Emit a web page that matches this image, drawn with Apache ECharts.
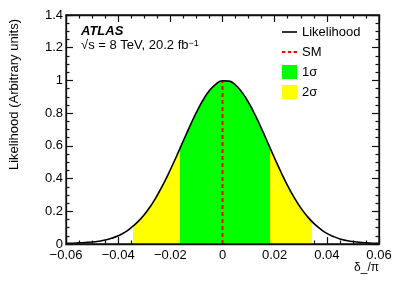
<!DOCTYPE html>
<html><head><meta charset="utf-8">
<script src="https://cdn.jsdelivr.net/npm/echarts@6/dist/echarts.min.js"></script>
<style>html,body{margin:0;padding:0;background:#fff}#c{width:399px;height:288px}</style>
</head><body><div id="c"></div>
<script>
const xValues = [-0.06,-0.0575,-0.055,-0.0525,-0.05,-0.0475,-0.045,-0.0425,-0.04,-0.0375,-0.035,-0.0325,-0.03,-0.0275,-0.025,-0.0225,-0.02,-0.0175,-0.015,-0.0125,-0.01,-0.0075,-0.005,-0.0025,0,0.0025,0.005,0.0075,0.01,0.0125,0.015,0.0175,0.02,0.0225,0.025,0.0275,0.03,0.0325,0.035,0.0375,0.04,0.0425,0.045,0.0475,0.05,0.0525,0.055,0.0575,0.06];
const likelihood = [0.004,0.005,0.007,0.009,0.012,0.017,0.024,0.035,0.05,0.071,0.1,0.135,0.179,0.233,0.298,0.372,0.454,0.541,0.632,0.721,0.805,0.879,0.938,0.978,0.998,0.996,0.972,0.927,0.865,0.789,0.704,0.614,0.524,0.437,0.356,0.284,0.221,0.169,0.126,0.092,0.065,0.046,0.031,0.021,0.015,0.01,0.007,0.005,0.004];
const band1sigma = [-0.0162, 0.0182];
const band2sigma = [-0.0342, 0.0345];
const smX = 0;
const smTop = 0.998;
const xTicks = [-0.06,-0.04,-0.02,0,0.02,0.04,0.06];
const yTicks = [0,0.2,0.4,0.6,0.8,1,1.2,1.4];

const curve = xValues.map((x,i)=>[x, likelihood[i]]);
const font = 'Liberation Sans, Arial, Helvetica, sans-serif';
const fmtX = v => { const r = Math.round(v*100)/100; return r === 0 ? '0' : String(r).replace('-', '\u2212'); };
const solidIcon = 'path://M0,0M15,14M0,6.2h15v1.6h-15z';
const dashIcon = 'path://M0,0M15,14M0,6h3.4v2h-3.4zM5.8,6h3.4v2h-3.4zM11.6,6h3.4v2h-3.4z';
const axisCommon = (extra) => Object.assign({
  axisLine:{show:true,onZero:false,lineStyle:{color:'#111',width:1.3}},
  axisTick:{show:true,inside:true,length:7,lineStyle:{color:'#111',width:1.2}},
  minorTick:{show:true,splitNumber:4,length:3.5,lineStyle:{color:'#111',width:1.2}},
  splitLine:{show:false}
}, extra);
const chart = echarts.init(document.getElementById('c'), null, {renderer:'canvas'});
chart.setOption({
  animation:false,
  textStyle:{fontFamily:font},
  grid:{left:61,right:20,top:15,bottom:44,show:true,borderColor:'#111',borderWidth:1.3,z:10},
  title:{
    left:76, top:20, itemGap:1,
    text:'ATLAS',
    textStyle:{fontFamily:font,fontSize:13,fontWeight:'bold',fontStyle:'italic',color:'#000'},
    subtext:'√s = 8 TeV, 20.2 fb{sup|\u22121}',
    subtextStyle:{fontFamily:font,fontSize:13,color:'#000',rich:{sup:{fontSize:9,verticalAlign:'top',color:'#000',fontFamily:font}}}
  },
  legend:{
    orient:'vertical', left:282, top:25, padding:0, itemGap:6, itemWidth:15, itemHeight:14,
    textStyle:{fontFamily:font,fontSize:13,color:'#000'},
    data:[
      {name:'Likelihood', icon:solidIcon, itemStyle:{color:'#000',borderWidth:0}},
      {name:'SM', icon:dashIcon, itemStyle:{color:'#ff0000',borderWidth:0}},
      {name:'1σ', icon:'rect', itemStyle:{color:'#00ff00',borderWidth:0}},
      {name:'2σ', icon:'rect', itemStyle:{color:'#ffff00',borderWidth:0}}
    ]
  },
  visualMap:[
    {type:'piecewise',show:false,dimension:0,seriesIndex:0,
     pieces:[{lt:band2sigma[0],color:'rgba(255,255,255,0)'},{gte:band2sigma[0],lte:band2sigma[1],color:'#ffff00'},{gt:band2sigma[1],color:'rgba(255,255,255,0)'}]},
    {type:'piecewise',show:false,dimension:0,seriesIndex:1,
     pieces:[{lt:band1sigma[0],color:'rgba(255,255,255,0)'},{gte:band1sigma[0],lte:band1sigma[1],color:'#00ff00'},{gt:band1sigma[1],color:'rgba(255,255,255,0)'}]}
  ],
  xAxis:[
    axisCommon({type:'value',min:-0.06,max:0.06,interval:0.02,position:'bottom',
      name:'δ_/π',nameLocation:'end',nameGap:0,
      nameTextStyle:{fontFamily:font,fontSize:12,color:'#000',align:'right',verticalAlign:'top',padding:[18,0,0,0]},
      axisLabel:{formatter:fmtX,fontFamily:font,fontSize:13,color:'#000',margin:5}}),
    axisCommon({type:'value',min:-0.06,max:0.06,interval:0.02,position:'top',axisLabel:{show:false}})
  ],
  yAxis:[
    axisCommon({type:'value',min:0,max:1.4,interval:0.2,position:'left',
      name:'Likelihood (Arbitrary units)',nameLocation:'middle',nameRotate:90,nameGap:45,
      nameTextStyle:{fontFamily:font,fontSize:13,color:'#000',padding:[0,0,0,70]},
      axisLabel:{fontFamily:font,fontSize:13,color:'#000',margin:3}}),
    axisCommon({type:'value',min:0,max:1.4,interval:0.2,position:'right',axisLabel:{show:false}})
  ],
  series:[
    {name:'2σ',type:'line',data:curve,smooth:true,showSymbol:false,symbol:'none',lineStyle:{width:0},areaStyle:{opacity:1},z:2},
    {name:'1σ',type:'line',data:curve,smooth:true,showSymbol:false,symbol:'none',lineStyle:{width:0},areaStyle:{opacity:1},z:3},
    {name:'SM',type:'line',xAxisIndex:1,yAxisIndex:1,data:[[smX,0],[smX,smTop]],showSymbol:false,symbol:'none',lineStyle:{color:'#ff0000',width:2,type:[4,3]},itemStyle:{color:'#ff0000'},z:5},
    {name:'Likelihood',type:'line',data:curve,smooth:true,showSymbol:false,symbol:'none',lineStyle:{color:'#000',width:1.6},itemStyle:{color:'#000'},z:6}
  ]
});
</script></body></html>
